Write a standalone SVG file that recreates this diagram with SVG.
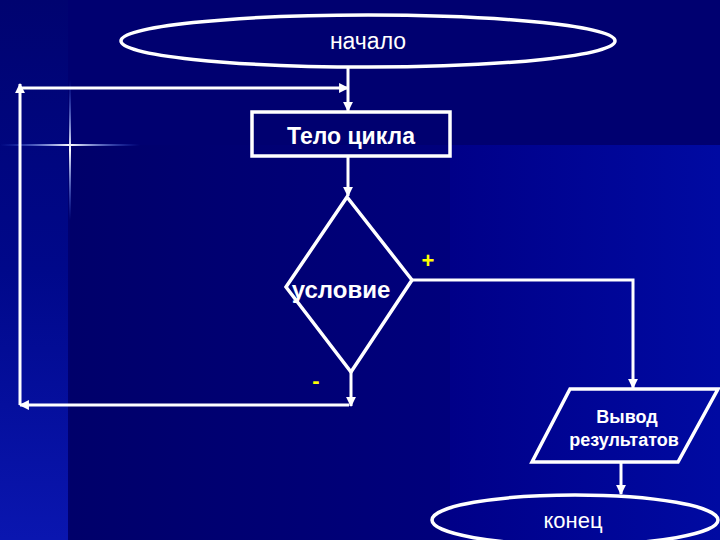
<svg xmlns="http://www.w3.org/2000/svg" width="720" height="540" viewBox="0 0 720 540">
<defs>
<linearGradient id="leftBand" x1="0" y1="0" x2="0" y2="1">
<stop offset="0" stop-color="#000370"/>
<stop offset="0.5" stop-color="#00088a"/>
<stop offset="1" stop-color="#0a16b0"/>
</linearGradient>
<linearGradient id="rightBand" x1="0" y1="0" x2="1" y2="0">
<stop offset="0" stop-color="#000088"/>
<stop offset="1" stop-color="#000aa2"/>
</linearGradient>
<linearGradient id="midBand" x1="0" y1="0" x2="1" y2="0">
<stop offset="0" stop-color="#00006a"/>
<stop offset="1" stop-color="#00007c"/>
</linearGradient>
<linearGradient id="flareH" x1="0" y1="0" x2="1" y2="0">
<stop offset="0" stop-color="#3a6cff" stop-opacity="0"/>
<stop offset="0.5" stop-color="#ffffff" stop-opacity="1"/>
<stop offset="1" stop-color="#3a6cff" stop-opacity="0"/>
</linearGradient>
<linearGradient id="flareV" x1="0" y1="0" x2="0" y2="1">
<stop offset="0" stop-color="#3a6cff" stop-opacity="0"/>
<stop offset="0.5" stop-color="#ffffff" stop-opacity="1"/>
<stop offset="1" stop-color="#3a6cff" stop-opacity="0"/>
</linearGradient>
<marker id="arr" viewBox="0 0 10 10" refX="9" refY="5" markerWidth="3.3" markerHeight="3.3" orient="auto" markerUnits="strokeWidth">
<path d="M0,0 L10,5 L0,10 z" fill="#ffffff"/>
</marker>
</defs>
<style>
.shape{fill:none;stroke:#ffffff;stroke-width:3.5}
.line{fill:none;stroke:#ffffff;stroke-width:3;marker-end:url(#arr)}
.t{font-family:"Liberation Sans",Arial,sans-serif;fill:#ffffff;text-anchor:middle}
.b{font-weight:bold}
.y{font-family:"Liberation Sans",Arial,sans-serif;fill:#ffff00;font-weight:bold;text-anchor:middle}
</style>
<!-- background -->
<rect x="0" y="0" width="720" height="540" fill="#000070"/>
<rect x="70" y="145" width="380" height="395" fill="url(#midBand)"/>
<rect x="450" y="145" width="270" height="395" fill="url(#rightBand)"/>
<rect x="0" y="0" width="68" height="540" fill="url(#leftBand)"/>
<rect x="0" y="144" width="140" height="2" fill="url(#flareH)"/>
<rect x="69" y="80" width="2" height="140" fill="url(#flareV)"/>

<g id="start">
<ellipse class="shape" cx="368" cy="41" rx="247" ry="26"/>
<text class="t" x="368" y="49" font-size="23">начало</text>
</g>
<g id="body">
<rect class="shape" x="252" y="112" width="198" height="44"/>
<text class="t b" x="351" y="144" font-size="23">Тело цикла</text>
</g>
<g id="cond">
<polygon class="shape" points="347,197 412,280 351,372 286,287"/>
<text class="t b" x="341" y="298" font-size="24">условие</text>
</g>
<g id="output">
<polygon class="shape" points="570,389 718,389 678,462 532,462"/>
<text class="t b" x="627" y="423" font-size="18">Вывод</text>
<text class="t b" x="624" y="446" font-size="18">результатов</text>
</g>
<g id="end">
<ellipse class="shape" cx="575" cy="520" rx="143" ry="25"/>
<text class="t" x="573" y="528" font-size="22">конец</text>
</g>
<g id="labels">
<text class="y" x="428" y="268" font-size="22">+</text>
<text class="y" x="316" y="388" font-size="22">-</text>
</g>
<g id="connectors">
<line class="line" x1="348" y1="68" x2="348" y2="111"/>
<line class="line" x1="348" y1="157" x2="348" y2="196"/>
<polyline class="line" points="412,280 633,280 633,388"/>
<line class="line" x1="351" y1="372" x2="351" y2="406"/>
<line class="line" x1="349" y1="405" x2="20" y2="405"/>
<line class="line" x1="20" y1="405" x2="20" y2="84"/>
<line class="line" x1="19" y1="88" x2="348" y2="88"/>
<line class="line" x1="621" y1="463" x2="621" y2="494"/>
</g>
</svg>
